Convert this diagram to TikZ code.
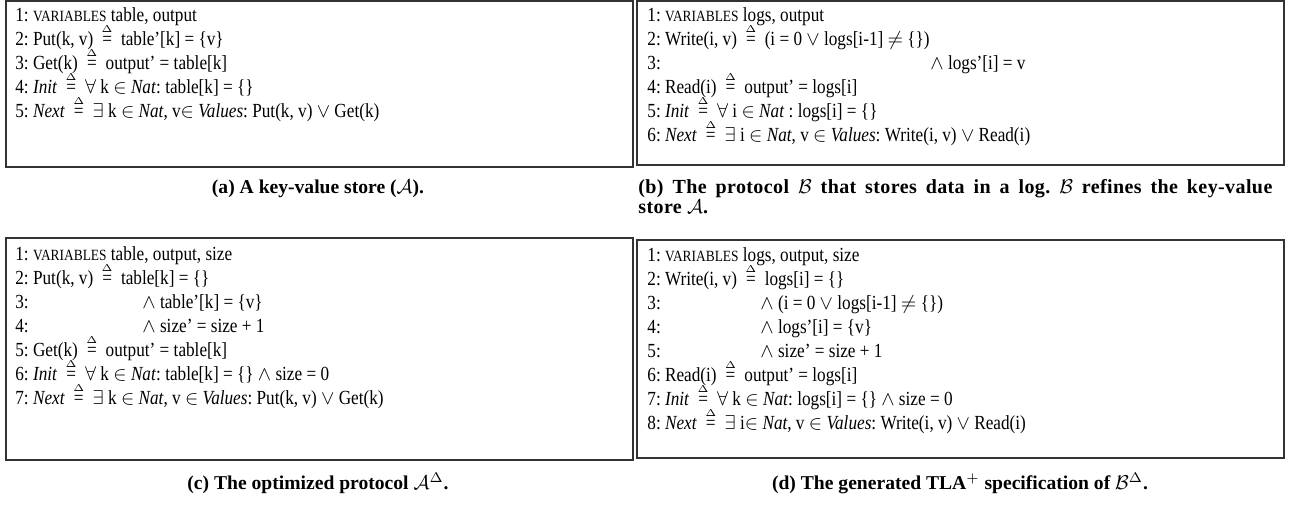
\documentclass[tikz,border=0pt]{standalone}
\usepackage{amsmath}
\usepackage{fontspec}
\setmainfont{Liberation Serif}[FakeStretch=0.86]
\newfontfamily\capfont{Liberation Serif}
\newfontfamily\capfontb{Liberation Serif}[LetterSpace=2.0]
\frenchspacing
\newcommand\dfn{\hspace{4.2pt}\ensuremath{\mathrel{\overset{\scriptscriptstyle\Delta}{\text{=}}}}\hspace{4.2pt}}
\newcommand\vsc{{\fontsize{7.8pt}{8pt}\selectfont VARIABLES}}
\begin{document}
\begin{tikzpicture}[x=0.5pt,y=-0.5pt,
  box/.style={draw=black!80, line width=0.6pt},
  ln/.style={anchor=base west, inner sep=0pt, font=\fontsize{10pt}{12pt}\selectfont},
  captxt/.style={anchor=base, inner sep=0pt, font=\capfont\bfseries\fontsize{9.8pt}{12pt}\selectfont},
  captxtb/.style={anchor=base west, inner sep=0pt, font=\capfontb\bfseries\fontsize{10pt}{12pt}\selectfont}]
\useasboundingbox (0,0) rectangle (1291,506);
% boxes
\draw[box] (6,1) rectangle (633,167);
\draw[box] (637,1) rectangle (1284,165);
\draw[box] (6,238) rectangle (633,460);
\draw[box] (637,240) rectangle (1284,458);
% (a)
\node[ln] (a1) at (15,22) {1: \vsc\ table, output};
\node[ln] (a2) at (15,46) {2: Put(k, v)\dfn table'[k] = \{v\}};
\node[ln] (a3) at (15,70) {3: Get(k)\dfn output' = table[k]};
\node[ln] (a4) at (15,94) {4: \textit{Init}\dfn $\forall$ k $\in$ \textit{Nat}: table[k] = \{\}};
\node[ln] (a5) at (15,118) {5: \textit{Next}\dfn $\exists$ k $\in$ \textit{Nat}, v$\in$ \textit{Values}: Put(k, v) $\vee$ Get(k)};
% (b)
\node[ln] (b1) at (647,22) {1: \vsc\ logs, output};
\node[ln] (b2) at (647,46) {2: Write(i, v)\dfn (i = 0 $\vee$ logs[i-1] $\neq$ \{\})};
\node[ln] (b3) at (647,70) {3:};
\node[ln] (b3r) at (930,70) {$\wedge$ logs'[i] = v};
\node[ln] (b4) at (647,94) {4: Read(i)\dfn output' = logs[i]};
\node[ln] (b5) at (647,118) {5: \textit{Init}\dfn $\forall$ i $\in$ \textit{Nat} : logs[i] = \{\}};
\node[ln] (b6) at (647,142) {6: \textit{Next}\dfn $\exists$ i $\in$ \textit{Nat}, v $\in$ \textit{Values}: Write(i, v) $\vee$ Read(i)};
% (c)
\node[ln] (c1) at (15,261) {1: \vsc\ table, output, size};
\node[ln] (c2) at (15,285) {2: Put(k, v)\dfn table[k] = \{\}};
\node[ln] (c3) at (15,309) {3:};
\node[ln] (c3r) at (142,309) {$\wedge$ table'[k] = \{v\}};
\node[ln] (c4) at (15,333) {4:};
\node[ln] (c4r) at (142,333) {$\wedge$ size' = size + 1};
\node[ln] (c5) at (15,357) {5: Get(k)\dfn output' = table[k]};
\node[ln] (c6) at (15,381) {6: \textit{Init}\dfn $\forall$ k $\in$ \textit{Nat}: table[k] = \{\} $\wedge$ size = 0};
\node[ln] (c7) at (15,405) {7: \textit{Next}\dfn $\exists$ k $\in$ \textit{Nat}, v $\in$ \textit{Values}: Put(k, v) $\vee$ Get(k)};
% (d)
\node[ln] (d1) at (647,262) {1: \vsc\ logs, output, size};
\node[ln] (d2) at (647,286) {2: Write(i, v)\dfn logs[i] = \{\}};
\node[ln] (d3) at (647,310) {3:};
\node[ln] (d3r) at (760,310) {$\wedge$ (i = 0 $\vee$ logs[i-1] $\neq$ \{\})};
\node[ln] (d4) at (647,334) {4:};
\node[ln] (d4r) at (760,334) {$\wedge$ logs'[i] = \{v\}};
\node[ln] (d5) at (647,358) {5:};
\node[ln] (d5r) at (760,358) {$\wedge$ size' = size + 1};
\node[ln] (d6) at (647,382) {6: Read(i)\dfn output' = logs[i]};
\node[ln] (d7) at (647,406) {7: \textit{Init}\dfn $\forall$ k $\in$ \textit{Nat}: logs[i] = \{\} $\wedge$ size = 0};
\node[ln] (d8) at (647,430) {8: \textit{Next}\dfn $\exists$ i$\in$ \textit{Nat}, v $\in$ \textit{Values}: Write(i, v) $\vee$ Read(i)};
% captions
\node[captxt] (capA) at (318,194) {(a) A key-value store ($\mathcal{A}$).};
\node[captxtb] (capB1) at (638,194) {\makebox[317pt][s]{(b) The protocol $\mathcal{B}$ that stores data in a log. $\mathcal{B}$ refines the key-value}};
\node[captxtb] (capB2) at (638,214) {store $\mathcal{A}$.};
\node[captxt] (capC) at (318,490) {(c) The optimized protocol $\mathcal{A}^{\Delta}$.};
\node[captxt] (capD) at (960,490) {(d) The generated TLA$^{+}$ specification of $\mathcal{B}^{\Delta}$.};
\end{tikzpicture}
\end{document}
